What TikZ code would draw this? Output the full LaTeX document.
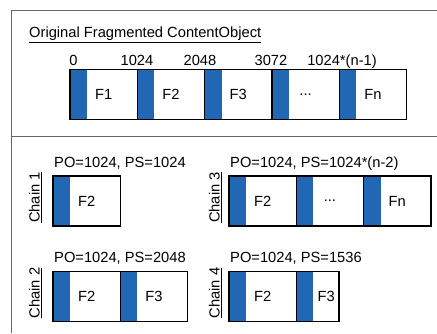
\documentclass[tikz,border=0pt]{standalone}
\usepackage{fontspec}
\setmainfont{Liberation Sans}
\definecolor{segblue}{HTML}{2267B4}
\definecolor{framegray}{HTML}{666666}
\begin{document}
\begin{tikzpicture}[x=1pt,y=-1pt,
  every node/.style={font=\fontsize{14.7}{17}\selectfont},
  seg/.style={draw=black, line width=1.4pt, fill=white, minimum height=50pt, minimum width=67.3pt, inner sep=0pt,
    path picture={\fill[segblue] (path picture bounding box.north west) rectangle ([xshift=17pt]path picture bounding box.south west);}},
  txt/.style={anchor=base, inner sep=0pt},
  chainlbl/.style={rotate=90, anchor=base, inner sep=0pt},
  frame/.style={draw=framegray, line width=1pt}]
\useasboundingbox (0,0) rectangle (437,333);
% frame
\coordinate (fbl) at (11.5,333);
\coordinate (ftl) at (11.5,10.5);
\coordinate (ftr) at (437,10.5);
\coordinate (sl) at (11.5,136);
\coordinate (sr) at (437,136);
\draw[frame] (fbl) -- (ftl) -- (ftr);
\draw[frame] (sl) -- (sr);
% title
\node[txt, anchor=base west] (title) at (29,37.5) {\underline{Original Fragmented ContentObject}};
% top bar
\node[seg] (t1) at (103.65,94.5) {F1};
\node[seg] (t2) at (170.95,94.5) {F2};
\node[seg] (t3) at (238.25,94.5) {F3};
\node[seg] (t4) at (305.55,94.5) {...};
\node[seg] (t5) at (372.85,94.5) {Fn};
\node[txt] (o0) at (73.5,65) {0};
\node[txt] (o1) at (137,65) {1024};
\node[txt] (o2) at (200,65) {2048};
\node[txt] (o3) at (271,65) {3072};
\node[txt] (o4) at (342,65) {1024*(n-1)};
% chain 1
\node[chainlbl] (c1) at (39.5,197.5) {\underline{Chain 1}};
\node[txt, anchor=base west] (p1) at (54,167.5) {PO=1024, PS=1024};
\node[seg] (a1) at (86.65,201) {F2};
% chain 2
\node[chainlbl] (c2) at (39.5,293) {\underline{Chain 2}};
\node[txt, anchor=base west] (p2) at (54,262.7) {PO=1024, PS=2048};
\node[seg] (b1) at (86.65,296.5) {F2};
\node[seg] (b2) at (153.95,296.5) {F3};
% chain 3
\node[chainlbl] (c3) at (219.5,197.5) {\underline{Chain 3}};
\node[txt, anchor=base west] (p3) at (230,167.5) {PO=1024, PS=1024*(n-2)};
\node[seg] (d1) at (262.65,201) {F2};
\node[seg] (d2) at (329.95,201) {...};
\node[seg] (d3) at (397.25,201) {Fn};
% chain 4
\node[chainlbl] (c4) at (219.5,293) {\underline{Chain 4}};
\node[txt, anchor=base west] (p4) at (230,262.7) {PO=1024, PS=1536};
\node[seg] (e1) at (262.65,296.5) {F2};
\node[seg, minimum width=42.7pt, label={[xshift=8.5pt]center:F3}] (e2) at (317.65,296.5) {};
\end{tikzpicture}
\end{document}
